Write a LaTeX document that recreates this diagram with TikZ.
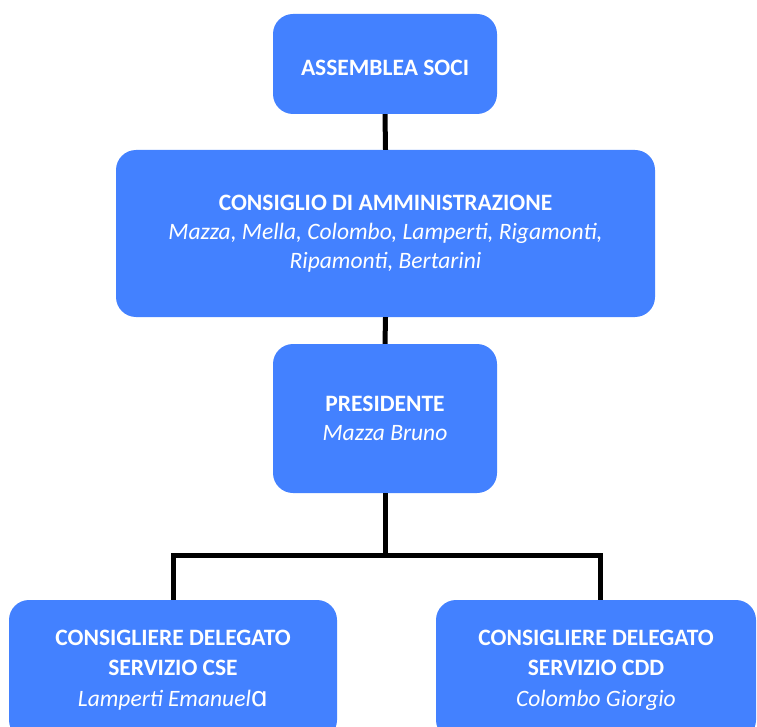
\documentclass[tikz,border=0pt]{standalone}
\usepackage{fontspec}
\setmainfont{Carlito}
\newfontfamily\djv{DejaVu Sans}
\definecolor{boxblue}{RGB}{67,129,255}
\begin{document}
\begin{tikzpicture}[x=1pt,y=-1pt,
  orgbox/.style={fill=boxblue, draw=none, rounded corners=20pt, text=white,
    align=center, inner sep=0pt, font=\fontsize{23.5}{29}\selectfont},
  link/.style={line width=5pt, draw=black}]
\useasboundingbox (0,0) rectangle (757,727);
\node[orgbox, minimum width=224pt, minimum height=100pt] (as) at (385,64) {\rule{0pt}{23pt}\textbf{ASSEMBLEA SOCI}};
\node[orgbox, minimum width=539pt, minimum height=167pt] (cda) at (385.5,233.5)
  {\textbf{CONSIGLIO DI AMMINISTRAZIONE}\\ \textit{Mazza, Mella, Colombo, Lamperti, Rigamonti,}\\ \textit{Ripamonti, Bertarini}};
\node[orgbox, minimum width=224pt, minimum height=149pt] (pres) at (385,418.5)
  {\textbf{PRESIDENTE}\\ \textit{Mazza Bruno}};
\begin{scope}
\clip (0,0) rectangle (757,727);
\node[orgbox, minimum width=328pt, minimum height=140pt, font=\fontsize{23.5}{30.5}\selectfont] (cse) at (173,670)
  {\textbf{CONSIGLIERE DELEGATO}\\ \textbf{SERVIZIO CSE}\\ \textit{Lamperti Emanuel}{\djv\fontsize{27}{30}\selectfont ɑ}};
\node[orgbox, minimum width=320pt, minimum height=140pt, font=\fontsize{23.5}{30.5}\selectfont] (cdd) at (596,670)
  {\textbf{CONSIGLIERE DELEGATO}\\ \textbf{SERVIZIO CDD}\\ \textit{Colombo Giorgio}};
\end{scope}
\coordinate (j) at (385,555);
\coordinate (rtop) at (600,600);
\draw[link] (as.south) -- (cda.north);
\draw[link] (cda.south) -- (pres.north);
\draw[link] (pres.south) -- ([yshift=2.5pt]j);
\draw[link] (cse.north) |- (j) -| (rtop);
\end{tikzpicture}
\end{document}
